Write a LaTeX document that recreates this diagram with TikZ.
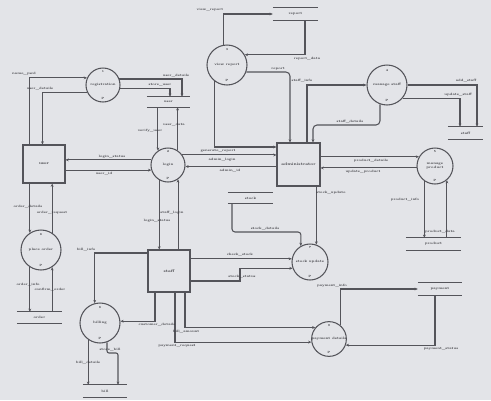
\documentclass[tikz,border=0pt]{standalone}
\usetikzlibrary{arrows.meta,calc}
\definecolor{bgc}{RGB}{227,228,232}
\definecolor{inkc}{RGB}{84,84,90}
\definecolor{txtc}{RGB}{55,55,60}
\tikzset{
  flow/.style={draw=inkc, line width=1.05pt, -{Stealth[length=3.2pt,width=2.8pt]}},
  plain/.style={draw=inkc, line width=1.05pt},
  proc/.style={circle, draw=inkc, line width=1.05pt, fill=bgc, inner sep=0pt, font=\fontsize{3.3}{3.7}\selectfont\bfseries, text=txtc, align=center},
  ent/.style={rectangle, draw=inkc, line width=1.05pt, fill=bgc, inner sep=0pt, font=\fontsize{3.8}{4.2}\selectfont\bfseries, text=txtc},
  storen/.style={inner sep=0pt, font=\fontsize{3.3}{3.7}\selectfont\bfseries, text=txtc},
  lbl/.style={inner sep=0.3pt, font=\fontsize{3.2}{3.5}\selectfont\bfseries, text=txtc},
  pnum/.style={inner sep=0pt, font=\fontsize{3}{3.4}\selectfont\bfseries, text=txtc}
}
\begin{document}
\begin{tikzpicture}[x=1pt,y=-1pt]
\useasboundingbox (0,0) rectangle (491,400);
\fill[bgc] (0,0) rectangle (491,400);

% ---------- processes ----------
\node[proc, minimum size=34pt] (reg)   at (103,85)  {registration};
\node[proc, minimum size=34pt] (login) at (168,165) {login};
\node[proc, minimum size=40pt] (view)  at (227,65)  {view report};
\node[proc, minimum size=40pt] (mgr)   at (387,85)  {manage staff};
\node[proc, minimum size=36pt] (prod)  at (435,166) {manage\\product};
\node[proc, minimum size=40pt] (ord)   at (41,250)  {place order};
\node[proc, minimum size=36pt] (stk)   at (310,262) {stock update};
\node[proc, minimum size=40pt] (bill)  at (100,323) {billing};
\node[proc, minimum size=34pt] (pay)   at (329,339) {payment details};

\node[pnum] (reg-t)   at (103,72)  {1};  \node[pnum] (reg-b)   at (103,98)  {P};
\node[pnum] (login-t) at (168,152) {2};  \node[pnum] (login-b) at (168,178) {P};
\node[pnum] (view-t)  at (227,50)  {3};  \node[pnum] (view-b)  at (227,80)  {P};
\node[pnum] (mgr-t)   at (387,70)  {4};  \node[pnum] (mgr-b)   at (387,100) {P};
\node[pnum] (prod-t)  at (435,152) {5};  \node[pnum] (prod-b)  at (435,180) {P};
\node[pnum] (ord-t)   at (41,235)  {6};  \node[pnum] (ord-b)   at (41,265)  {P};
\node[pnum] (stk-t)   at (310,248) {7};  \node[pnum] (stk-b)   at (310,276) {P};
\node[pnum] (bill-t)  at (100,308) {8};  \node[pnum] (bill-b)  at (100,338) {P};
\node[pnum] (pay-t)   at (329,326) {9};  \node[pnum] (pay-b)   at (329,352) {P};

% ---------- entities ----------
\node[ent, minimum width=42pt, minimum height=38pt] (user)  at (44,164)    {user};
\node[ent, minimum width=43pt, minimum height=43pt] (admin) at (298.5,164.5) {administrator};
\node[ent, minimum width=42pt, minimum height=42pt] (clerk) at (169,271)   {staff};

% ---------- data stores ----------
\node[storen, minimum width=43pt, minimum height=10pt] (s1) at (168.5,102) {user};
\node[storen, minimum width=45pt, minimum height=12pt] (s2) at (295.5,14)  {report};
\node[storen, minimum width=35pt, minimum height=12pt] (s3) at (465.5,133) {staff};
\node[storen, minimum width=55pt, minimum height=12pt] (s4) at (433.5,244) {product};
\node[storen, minimum width=45pt, minimum height=10pt] (s5) at (250.5,198) {stock};
\node[storen, minimum width=45pt, minimum height=11pt] (s6) at (39.5,317.5) {order};
\node[storen, minimum width=44pt, minimum height=12pt] (s7) at (105,391)  {bill};
\node[storen, minimum width=44pt, minimum height=12pt] (s8) at (440,289)  {payment};
\foreach \s in {s1,s2,s3,s4,s5,s6,s7,s8}{
  \draw[plain] (\s.north west) -- (\s.north east) (\s.south west) -- (\s.south east);
}

% ---------- flows ----------
% user <-> registration
\draw[flow] ([xshift=7pt]user.north west) |- (reg.156);
\draw[flow] (reg.204) -| ([xshift=20pt]user.north west);
% registration -> user store
\draw[flow] (reg.20) -| (s1.north -| 182,0);
\draw[flow] (reg.-10) -| (s1.north -| 170,0);
% user store <-> login
\draw[flow] (login.125 |- s1.south) -- (login.125);
\draw[flow] (login.57) -- (login.57 |- s1.south);
% login <-> user
\draw[flow] (login.163) -- (login.163 -| user.east);
\draw[flow] (user.east |- login.197) -- (login.197);
% view report <-> report store
\draw[flow] (view.100) |- (s2.west);
\draw[flow] (s2.south -| 305,0) |- (view.30);
% view report -> administrator
\draw[flow, rounded corners=4pt] (view.-20) -| (admin.north -| 290,0);
\draw[flow] (view.233) |- (admin.west |- 0,147);
% login -> administrator
\draw[flow] (login.35) -- (login.35 -| admin.west);
\draw[flow] (admin.west |- login.-5) -- (login.-5);
% administrator <-> manage staff
\draw[flow] (admin.north -| 307,0) |- (mgr.west);
\coordinate (c1) at (313,125);
\draw[flow, rounded corners=4pt] (mgr.250) |- (c1) -- (admin.north -| c1);
% manage staff -> staff store
\draw[flow] (mgr.east) -| (s3.north -| 477,0);
\draw[flow] (mgr.-40) -| (s3.north -| 460,0);
% administrator <-> manage product
\draw[flow] (admin.east |- prod.150) -- (prod.150);
\draw[flow] (prod.186) -- (prod.186 -| admin.east);
% manage product -> product store
\draw[flow] (prod.235) -- (prod.235 |- s4.north);
\draw[flow] (prod.-50 |- s4.north) -- (prod.-50);
% login <-> staff
\draw[flow] (login.240) -- (login.240 |- clerk.north);
\draw[flow] (login.-55 |- clerk.north) -- (login.-55);
% user <-> place order
\draw[flow] (ord.123 |- user.south) -- (ord.123);
\draw[flow] (ord.57) -- (ord.57 |- user.south);
% place order -> order store
\draw[flow] (ord.237) -- (ord.237 |- s6.north);
\draw[flow] (ord.-57 |- s6.north) -- (ord.-57);
% stock store -> stock update
\coordinate (c2) at (301,232);
\draw[flow, rounded corners=3pt] (s5.south -| 232,0) |- (c2) -- (stk.120);
% administrator -> stock update
\draw[flow] (stk.70 |- admin.south) -- (stk.70);
% staff <-> stock update
\draw[flow] (clerk.east |- stk.170) -- (stk.170);
\coordinate (c3) at (240,281);
\draw[flow] (clerk.east |- c3) -- (c3) |- (stk.200);
% staff -> billing
\draw[flow] (clerk.west |- 0,253) -| (bill.105);
\draw[flow] (clerk.south -| 155,0) |- (bill.5);
% staff -> payment
\draw[flow] (clerk.south -| 185,0) |- (pay.140);
\draw[flow] (clerk.south -| 175,0) |- (pay.190);
% billing -> bill store
\draw[flow] (bill.235) -- (bill.235 |- s7.north);
\coordinate (c4) at (118,353);
\draw[flow, rounded corners=2pt] (bill.-70) |- (c4) -- (c4 |- s7.north);
% payment <-> payment store
\draw[flow] (pay.50) |- (s8.west);
\draw[flow] (s8.south -| 435,0) |- (pay.-20);

% ---------- flow labels ----------
\node[lbl] (l1)  at (24,74)   {name\_pwd};
\node[lbl] (l2)  at (40,89)   {user\_details};
\node[lbl] (l3)  at (176,76)  {user\_details};
\node[lbl] (l4)  at (160,85)  {store\_user};
\node[lbl] (l5)  at (174,125) {user\_data};
\node[lbl] (l6)  at (150,131) {verify\_user};
\node[lbl] (l7)  at (112,157) {login\_status};
\node[lbl] (l8)  at (104,174) {user\_id};
\node[lbl] (l9)  at (210,10)  {view\_report};
\node[lbl] (l10) at (307,59)  {report\_data};
\node[lbl] (l11) at (278,69)  {report};
\node[lbl] (l12) at (218,150.5) {generate\_report};
\node[lbl] (l13) at (222,160) {admin\_login};
\node[lbl] (l14) at (230,171) {admin\_id};
\node[lbl] (l15) at (302,81)  {staff\_info};
\node[lbl] (l16) at (350,122) {staff\_details};
\node[lbl] (l17) at (466,81)  {add\_staff};
\node[lbl] (l18) at (458,95)  {update\_staff};
\node[lbl] (l19) at (371,160.5) {product\_details};
\node[lbl] (l20) at (363,171.5) {update\_product};
\node[lbl] (l21) at (405,200) {product\_info};
\node[lbl] (l22) at (440,232) {product\_data};
\node[lbl] (l23) at (172,213) {staff\_login};
\node[lbl] (l24) at (157,221) {login\_status};
\node[lbl] (l25) at (28,207)  {order\_details};
\node[lbl] (l26) at (52,213)  {order\_request};
\node[lbl] (l27) at (28,285)  {order\_info};
\node[lbl] (l28) at (50,290)  {confirm\_order};
\node[lbl] (l29) at (265,229) {stock\_details};
\node[lbl] (l30) at (331,193) {stock\_update};
\node[lbl] (l31) at (240,255) {check\_stock};
\node[lbl] (l32) at (242,277) {stock\_status};
\node[lbl] (l33) at (86,250)  {bill\_info};
\node[lbl] (l34) at (157,325) {customer\_details};
\node[lbl] (l35) at (186,332) {bill\_amount};
\node[lbl] (l36) at (177,346) {payment\_request};
\node[lbl] (l37) at (88,363)  {bill\_details};
\node[lbl] (l38) at (110,350) {store\_bill};
\node[lbl] (l39) at (332,286) {payment\_info};
\node[lbl] (l40) at (441,349) {payment\_status};
\end{tikzpicture}
\end{document}
